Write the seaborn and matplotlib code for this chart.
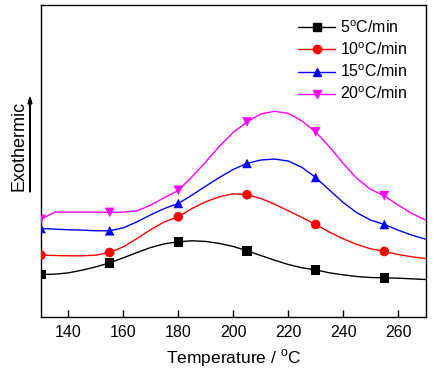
import numpy as np
import pandas as pd
import matplotlib
matplotlib.use('Agg')
from matplotlib import pyplot as plt
from matplotlib.lines import Line2D
import seaborn as sns

# temperature grid (deg C)
temp = list(range(130, 271, 5))
# heat flow, arbitrary units (height above the bottom axis)
hf_5 = [127, 128, 132, 140, 150, 162, 177, 193, 208, 219, 225, 228, 226, 220, 211,
        198, 184, 170, 157, 147, 141, 132, 126, 121, 118, 117, 116, 114, 112]
hf_10 = [185, 184, 183, 183, 185, 193, 210, 235, 262, 285, 300, 325, 345, 360, 369,
         366, 355, 338, 318, 298, 277, 254, 234, 217, 204, 196, 187, 180, 175]
hf_15 = [265, 263, 261, 260, 258, 258, 267, 285, 306, 325, 340, 365, 392, 418, 442,
         460, 470, 473, 467, 448, 418, 380, 343, 312, 290, 277, 260, 245, 233]
hf_20 = [292, 314, 314, 314, 314, 313, 314, 318, 335, 358, 379, 420, 465, 512, 553,
         584, 608, 616, 610, 587, 554, 510, 460, 415, 382, 363, 335, 310, 290]
marker_temp = [130, 155, 180, 205, 230, 255]

labels = [r'5$^\mathrm{o}$C/min', r'10$^\mathrm{o}$C/min',
          r'15$^\mathrm{o}$C/min', r'20$^\mathrm{o}$C/min']
colors = ['black', '#ff0000', '#0000ff', '#ff00ff']
markers = ['s', 'o', '^', 'v']

sns.set_style('ticks')
plt.rcParams['font.family'] = ['Liberation Sans', 'DejaVu Sans']
plt.rcParams['mathtext.fontset'] = 'custom'
plt.rcParams['mathtext.rm'] = 'Liberation Sans'
plt.rcParams['text.color'] = 'black'
plt.rcParams['axes.labelcolor'] = 'black'
plt.rcParams['xtick.color'] = 'black'
plt.rcParams['xtick.labelcolor'] = 'black'

frames = []
for lb, hf in zip(labels, [hf_5, hf_10, hf_15, hf_20]):
    frames.append(pd.DataFrame({'T': temp, 'HF': hf, 'rate': lb}))
df = pd.concat(frames, ignore_index=True)
df_mk = df[df['T'].isin(marker_temp)]

fig = plt.figure(figsize=(4.34, 3.75), dpi=100)
ax = fig.add_axes([0.0945, 0.155, 0.886, 0.832])

palette = dict(zip(labels, colors))
sns.lineplot(data=df, x='T', y='HF', hue='rate', palette=palette, lw=1.0,
             legend=False, ax=ax)
for lb, mk in zip(labels, markers):
    sub = df_mk[df_mk['rate'] == lb]
    sns.scatterplot(data=sub, x='T', y='HF', color=palette[lb], marker=mk,
                    s=48, edgecolor='none', legend=False, ax=ax, zorder=3)

ax.set_xlim(130, 270)
ax.set_ylim(0, 935)
ax.set_xticks(range(140, 261, 20))
ax.set_yticks([])
ax.tick_params(axis='x', direction='in', length=5, width=1, labelsize=11.5, pad=6)
for sp in ax.spines.values():
    sp.set_linewidth(1.0)
    sp.set_color('black')
ax.set_xlabel(r'Temperature / $^\mathrm{o}$C', fontsize=12.5, labelpad=5)
ax.set_ylabel('')

handles = [Line2D([], [], color=c, marker=m, markersize=6, lw=1.0)
           for c, m in zip(colors, markers)]
ax.legend(handles, labels, loc='upper right', bbox_to_anchor=(0.99, 1.0),
          frameon=False, fontsize=11.5, handlelength=2.3, handletextpad=0.3,
          labelspacing=0.35)

fig.text(0.043, 0.61, 'Exothermic', rotation=90, ha='center', va='center',
         fontsize=13)
fig.patches.append(matplotlib.patches.FancyArrow(
    0.069, 0.488, 0, 0.253, width=0.0008, head_width=0.009, head_length=0.018,
    transform=fig.transFigure, color='black', length_includes_head=True))

plt.savefig('out.png', dpi=100)
